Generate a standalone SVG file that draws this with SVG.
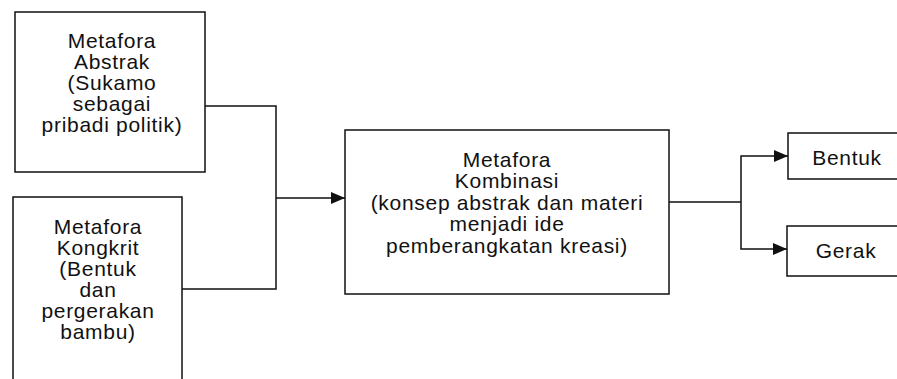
<svg xmlns="http://www.w3.org/2000/svg" width="897" height="379" viewBox="0 0 897 379">
<defs>
<style>
.box{fill:#fff;stroke:#111;stroke-width:1.5}
.t{font-family:"Liberation Sans",Arial,sans-serif;font-size:21px;letter-spacing:0.7px;fill:#111;text-anchor:middle}
.c{fill:none;stroke:#111;stroke-width:1.5}
</style>
<marker id="arr" viewBox="0 0 14 12" refX="14" refY="6" markerWidth="14" markerHeight="12" markerUnits="userSpaceOnUse" orient="auto">
<path d="M0,0 L14,6 L0,12 Z" fill="#111"/>
</marker>
</defs>
<rect width="897" height="379" fill="#fff"/>
<g id="connectors">
<polyline class="c" points="205,106 276,106 276,289 182,289"/>
<line class="c" x1="276" y1="198" x2="345" y2="198" marker-end="url(#arr)"/>
<line class="c" x1="669" y1="202" x2="741" y2="202"/>
<polyline class="c" points="741,202 741,156 788,156" marker-end="url(#arr)"/>
<polyline class="c" points="741,202 741,249 787,249" marker-end="url(#arr)"/>
</g>
<g id="abstrak">
<rect class="box" x="15" y="12" width="190" height="160"/>
<text class="t" x="112" y="48">Metafora</text>
<text class="t" x="112" y="69">Abstrak</text>
<text class="t" x="112" y="90">(Sukamo</text>
<text class="t" x="112" y="111">sebagai</text>
<text class="t" x="112" y="132">pribadi politik)</text>
</g>
<g id="kongkrit">
<rect class="box" x="13" y="197" width="169" height="200"/>
<text class="t" x="98" y="234">Metafora</text>
<text class="t" x="98" y="255">Kongkrit</text>
<text class="t" x="98" y="276">(Bentuk</text>
<text class="t" x="98" y="297">dan</text>
<text class="t" x="98" y="318">pergerakan</text>
<text class="t" x="98" y="339">bambu)</text>
</g>
<g id="kombinasi">
<rect class="box" x="345" y="130" width="324" height="164"/>
<text class="t" x="507" y="167">Metafora</text>
<text class="t" x="507" y="188">Kombinasi</text>
<text class="t" x="507" y="210">(konsep abstrak dan materi</text>
<text class="t" x="507" y="231">menjadi ide</text>
<text class="t" x="507" y="253">pemberangkatan kreasi)</text>
</g>
<g id="bentuk">
<rect class="box" x="788" y="133" width="130" height="46"/>
<text class="t" x="847" y="165">Bentuk</text>
</g>
<g id="gerak">
<rect class="box" x="787" y="226" width="130" height="50"/>
<text class="t" x="846" y="258">Gerak</text>
</g>
</svg>
